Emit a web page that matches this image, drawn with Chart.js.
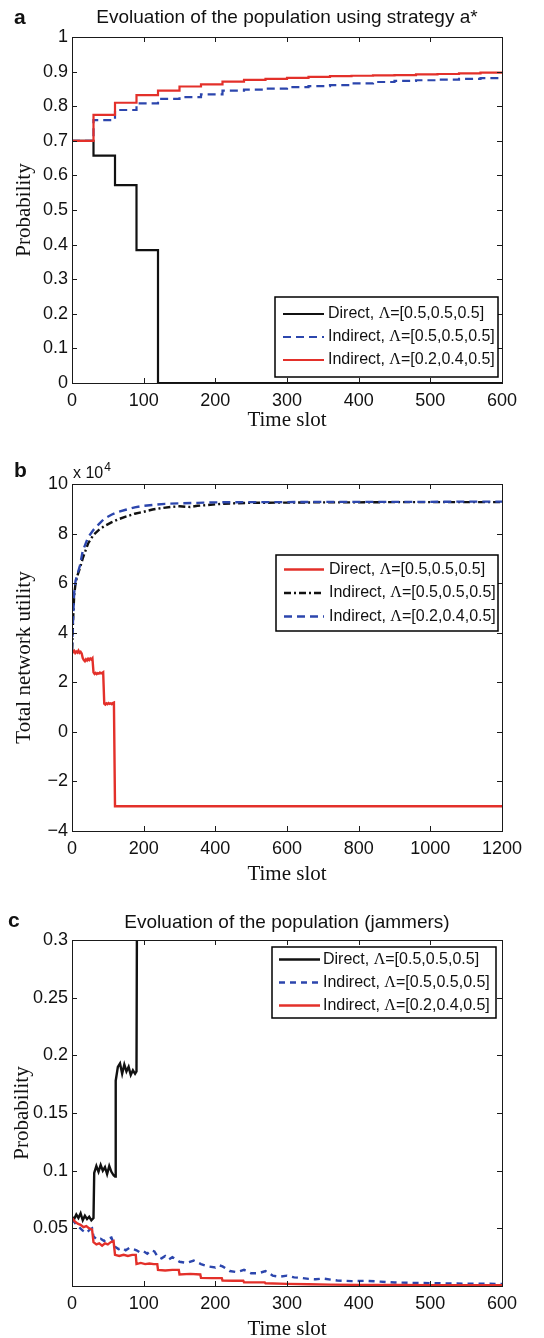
<!DOCTYPE html>
<html><head><meta charset="utf-8">
<script src="https://cdn.jsdelivr.net/npm/chart.js@4.4.1/dist/chart.umd.min.js"></script>
<style>
html,body{margin:0;padding:0;background:#fff;}
body{width:544px;height:1338px;position:relative;overflow:hidden;}
canvas{position:absolute;left:0;}
</style></head><body>
<canvas id="ca" width="544" height="440" style="top:0px"></canvas>
<canvas id="cb" width="544" height="450" style="top:440px"></canvas>
<canvas id="cc" width="544" height="448" style="top:890px"></canvas>
<script>
// ---------------- DATA ----------------
// Panel a: step values, one per 30-slot interval (last repeats the final value at slot 600)
const aSlots = [0,30,60,90,120,150,180,210,240,270,300,330,360,390,420,450,480,510,540,570,600];
const aDirect = [0.700,0.657,0.572,0.384,0,0,0,0,0,0,0,0,0,0,0,0,0,0,0,0,0];
const aIndirect55 = [0.700,0.760,0.789,0.808,0.821,0.826,0.834,0.845,0.848,0.851,0.855,0.858,0.861,0.866,0.870,0.873,0.875,0.877,0.879,0.881,0.881];
const aIndirect24 = [0.700,0.775,0.810,0.832,0.845,0.857,0.863,0.871,0.876,0.879,0.882,0.885,0.887,0.888,0.889,0.890,0.892,0.893,0.895,0.897,0.897];

// Panel b: total network utility (in units of 10^4)
const bDirectX = [0,3,6,9,12,15,18,21,24,27,30,33,36,39,42,45,48,51,54,57,60,63,66,69,72,75,78,81,84,87,90,93,96,99,102,105,108,111,114,117,120,1200];
const bDirectY = [3.30,3.22,3.27,3.18,3.24,3.20,3.28,3.19,3.23,3.16,2.98,2.90,2.85,2.93,2.88,2.95,2.90,2.96,2.92,2.97,2.40,2.34,2.38,2.33,2.37,2.35,2.39,2.36,2.38,2.41,1.14,1.10,1.15,1.12,1.16,1.13,1.15,1.12,1.16,1.18,-3.0,-3.0];
const bInd55X = [0,3,6,10,15,22,30,45,60,75,90,110,130,150,175,200,225,250,280,300,330,350,380,400,450,500,600,700,800,900,1000,1100,1200];
const bInd55Y = [3.3,4.5,5.5,6.0,6.3,6.6,7.0,7.6,7.95,8.15,8.3,8.45,8.58,8.68,8.8,8.88,8.97,9.03,9.08,9.1,9.07,9.12,9.15,9.18,9.22,9.24,9.25,9.26,9.26,9.27,9.27,9.27,9.27];
const bInd24X = [0,3,6,10,15,22,30,45,60,75,90,110,130,150,175,200,230,260,300,350,400,500,600,700,800,900,1000,1100,1200];
const bInd24Y = [3.3,4.6,5.6,6.1,6.35,6.7,7.3,7.85,8.15,8.38,8.6,8.76,8.88,8.96,9.06,9.12,9.16,9.2,9.22,9.24,9.26,9.27,9.27,9.28,9.28,9.28,9.28,9.29,9.29];

// Panel c: jammer population probability
const cDirectX = [0,3,6,9,12,15,18,21,24,27,30,31,34,37,40,43,46,49,52,55,58,60,61,64,67,70,73,76,79,82,85,88,90,91,600];
const cDirectY = [0.060,0.058,0.062,0.059,0.063,0.057,0.061,0.058,0.060,0.057,0.059,0.098,0.104,0.099,0.105,0.100,0.103,0.097,0.104,0.099,0.096,0.095,0.178,0.190,0.193,0.184,0.192,0.186,0.190,0.183,0.187,0.184,0.186,0.400,0.400];
const cInd55X = [0,5,10,15,20,25,28,30,35,40,45,50,55,60,65,70,75,80,85,90,95,100,105,110,115,120,125,130,135,140,150,160,170,180,190,200,205,210,220,230,240,250,260,270,280,290,300,310,320,330,340,350,370,390,410,430,450,470,500,530,560,600];
const cInd55Y = [0.058,0.054,0.051,0.048,0.046,0.049,0.050,0.043,0.040,0.041,0.039,0.041,0.042,0.034,0.032,0.033,0.031,0.033,0.032,0.031,0.029,0.030,0.028,0.031,0.030,0.025,0.024,0.026,0.023,0.025,0.021,0.020,0.022,0.019,0.017,0.016,0.018,0.017,0.013,0.012,0.014,0.011,0.011,0.013,0.009,0.008,0.009,0.0075,0.007,0.0062,0.0058,0.0065,0.0048,0.0042,0.0045,0.0038,0.0030,0.0028,0.0025,0.0022,0.0020,0.0018];
const cInd24X = [0,4,8,12,16,20,24,28,30,34,38,42,46,50,54,58,60,66,72,78,84,89,90,96,102,108,114,119,120,130,140,149,150,165,179,180,195,209,210,225,239,240,255,269,270,300,330,360,400,450,500,550,600];
const cInd24Y = [0.059,0.056,0.054,0.053,0.051,0.052,0.050,0.049,0.038,0.036,0.037,0.035,0.037,0.036,0.038,0.039,0.027,0.026,0.027,0.026,0.027,0.027,0.019,0.020,0.019,0.0195,0.019,0.019,0.014,0.0135,0.014,0.014,0.010,0.0105,0.010,0.007,0.0068,0.0068,0.0048,0.0045,0.0045,0.0033,0.0031,0.0031,0.0024,0.0018,0.0015,0.0012,0.0010,0.0009,0.0008,0.0008,0.0008];

// Labels
const labDirect55 = 'Direct, Λ=[0.5,0.5,0.5]';
const labInd55 = 'Indirect, Λ=[0.5,0.5,0.5]';
const labInd24 = 'Indirect, Λ=[0.2,0.4,0.5]';
const titleA = 'Evoluation of the population using strategy a*';
const titleC = 'Evoluation of the population (jammers)';
const xTitle = 'Time slot';
const yTitleA = 'Probability';
const yTitleB = 'Total network utility';
const yTitleC = 'Probability';

// ---------------- STYLE ----------------
const RED = '#e3302a', BLUE = '#2c46ad', BLACK = '#111111';
const SANS = "'Liberation Sans', Arial, Helvetica, sans-serif";
const SERIF = "'Liberation Serif', 'Times New Roman', serif";
const tickFont = {family: SANS, size: 18};
const axisTitleFont = {family: SERIF, size: 21};

function xy(xs, ys){ return xs.map((x,i)=>({x:x, y:ys[i]})); }

function drawLegendText(ctx, text, x, y, size){
  const parts = text.split('Λ');
  ctx.textBaseline = 'middle'; ctx.textAlign = 'left';
  ctx.font = size + 'px ' + SANS; ctx.fillText(parts[0], x, y); x += ctx.measureText(parts[0]).width;
  for (let i=1;i<parts.length;i++){
    ctx.font = size + 'px ' + SERIF; ctx.fillText('Λ', x, y); x += ctx.measureText('Λ').width;
    ctx.font = size + 'px ' + SANS; ctx.fillText(parts[i], x, y); x += ctx.measureText(parts[i]).width;
  }
}

const panelPlugin = {
  id: 'panel',
  afterDraw(chart, args, o){
    const {ctx, chartArea: a} = chart;
    const xs = chart.scales.x, ys = chart.scales.y;
    ctx.save();
    // axes box and inward ticks
    ctx.strokeStyle = '#1a1a1a'; ctx.lineWidth = 1;
    ctx.beginPath();
    xs.ticks.forEach(t => { const p = Math.round(xs.getPixelForValue(t.value)) + 0.5;
      ctx.moveTo(p, a.bottom); ctx.lineTo(p, a.bottom - 5); ctx.moveTo(p, a.top); ctx.lineTo(p, a.top + 5); });
    ys.ticks.forEach(t => { const p = Math.round(ys.getPixelForValue(t.value)) + 0.5;
      ctx.moveTo(a.left, p); ctx.lineTo(a.left + 5, p); ctx.moveTo(a.right, p); ctx.lineTo(a.right - 5, p); });
    ctx.stroke();
    ctx.strokeRect(Math.round(a.left)+0.5, Math.round(a.top)+0.5, Math.round(a.right-a.left), Math.round(a.bottom-a.top));
    // legend
    const L = o.legend;
    ctx.fillStyle = '#fff'; ctx.fillRect(L.x, L.y, L.w, L.h);
    ctx.strokeStyle = '#000'; ctx.lineWidth = 1.5; ctx.strokeRect(L.x, L.y, L.w, L.h);
    chart.data.datasets.forEach((ds, i) => {
      const cy = L.y + L.h/2 + (i-1)*L.row;
      ctx.beginPath(); ctx.strokeStyle = ds.borderColor; ctx.lineWidth = ds.borderWidth;
      ctx.setLineDash(ds.borderDash || []);
      ctx.moveTo(L.x + L.s0, cy); ctx.lineTo(L.x + L.s1, cy); ctx.stroke(); ctx.setLineDash([]);
      ctx.fillStyle = '#111';
      drawLegendText(ctx, ds.label, L.x + L.t, cy, L.size);
    });
    // title & panel letter
    ctx.fillStyle = '#111'; ctx.textBaseline = 'alphabetic';
    if (o.title){ ctx.font = '19px ' + SANS; ctx.textAlign = 'center'; ctx.fillText(o.title, (a.left + a.right)/2, o.titleY); }
    ctx.font = 'bold 21px ' + SANS; ctx.textAlign = 'left'; ctx.fillText(o.letter, o.letterX, o.letterY);
    if (o.exp){
      ctx.font = '16px ' + SANS; ctx.fillText('x 10', a.left + 1, o.exp.y);
      const w = ctx.measureText('x 10').width;
      ctx.font = '12px ' + SANS; ctx.fillText('4', a.left + 1 + w + 1, o.exp.y - 7);
    }
    ctx.restore();
  }
};

function makeChart(id, cfg){
  const cv = document.getElementById(id);
  const H = cv.height;
  const lh = axisTitleFont.size * 1.2;
  return new Chart(cv, {
    type: 'line',
    data: { datasets: cfg.datasets },
    options: {
      responsive: false, animation: false, devicePixelRatio: 1,
      layout: { padding: { top: cfg.area.top, right: 544 - cfg.area.right, left: 0, bottom: 0 } },
      elements: { point: { radius: 0 }, line: { tension: 0 } },
      plugins: { legend: { display: false }, tooltip: { enabled: false }, panel: cfg.panel },
      scales: {
        x: { type: 'linear', min: 0, max: cfg.xMax,
             ticks: { stepSize: cfg.xStep, font: tickFont, color: '#111', padding: 7, maxRotation: 0, autoSkip: false, includeBounds: true,
                      callback: v => String(v) },
             grid: { display: false, drawTicks: false }, border: { display: false },
             title: { display: true, text: xTitle, font: axisTitleFont, color: '#111', padding: { top: 0, bottom: H - cfg.xTitleY - lh/2 } },
             afterFit: s => { s.height = H - cfg.area.bottom; } },
        y: { type: 'linear', min: cfg.yMin, max: cfg.yMax,
             ticks: { stepSize: cfg.yStep, font: tickFont, color: '#111', padding: 4, callback: cfg.yFmt, autoSkip: false },
             grid: { display: false, drawTicks: false }, border: { display: false },
             title: { display: true, text: cfg.yTitle, font: axisTitleFont, color: '#111', padding: { top: cfg.yTitleX - lh/2, bottom: 0 } },
             afterFit: s => { s.width = cfg.area.left; } }
      }
    },
    plugins: [panelPlugin]
  });
}

const legendGeomA = { x: 275, y: 297, w: 223, h: 80, row: 23, s0: 8, s1: 49, t: 53, size: 16 };
const legendGeomB = { x: 276, y: 115, w: 222, h: 76, row: 23.5, s0: 8, s1: 48, t: 53, size: 16 };
const legendGeomC = { x: 272, y: 57, w: 224, h: 71, row: 23, s0: 7, s1: 48, t: 51, size: 16 };

makeChart('ca', {
  area: { left: 72, right: 502, top: 37, bottom: 383 },
  xMax: 600, xStep: 100, yMin: 0, yMax: 1, yStep: 0.1,
  yFmt: v => String(+v.toFixed(1)),
  yTitle: yTitleA, yTitleX: 24, xTitleY: 420,
  panel: { title: titleA, titleY: 23, letter: 'a', letterX: 14, letterY: 24, legend: legendGeomA },
  datasets: [
    { label: labDirect55, data: xy(aSlots, aDirect), stepped: 'before', borderColor: BLACK, borderWidth: 2.2, order: 2 },
    { label: labInd55, data: xy(aSlots, aIndirect55), stepped: 'before', borderColor: BLUE, borderWidth: 2.2, borderDash: [8,5], order: 1 },
    { label: labInd24, data: xy(aSlots, aIndirect24), stepped: 'before', borderColor: RED, borderWidth: 2.2, order: 0 }
  ]
});

makeChart('cb', {
  area: { left: 72, right: 502, top: 44, bottom: 391 },
  xMax: 1200, xStep: 200, yMin: -4, yMax: 10, yStep: 2,
  yFmt: v => v < 0 ? '\u2212' + Math.abs(v) : String(v),
  yTitle: yTitleB, yTitleX: 24, xTitleY: 434,
  panel: { letter: 'b', letterX: 14, letterY: 37, legend: legendGeomB, exp: { y: 38 } },
  datasets: [
    { label: labDirect55, data: xy(bDirectX, bDirectY), borderColor: RED, borderWidth: 2.4, order: 2 },
    { label: labInd55, data: xy(bInd55X, bInd55Y), borderColor: BLACK, borderWidth: 2.4, borderDash: [7,3,2,3], order: 1 },
    { label: labInd24, data: xy(bInd24X, bInd24Y), borderColor: BLUE, borderWidth: 2.4, borderDash: [8,5], order: 0 }
  ]
});

makeChart('cc', {
  area: { left: 72, right: 502, top: 50, bottom: 396 },
  xMax: 600, xStep: 100, yMin: 0, yMax: 0.3, yStep: 0.05,
  yFmt: v => Math.abs(v) < 1e-9 ? '' : String(+v.toFixed(2)),
  yTitle: yTitleC, yTitleX: 22, xTitleY: 439,
  panel: { title: titleC, titleY: 38, letter: 'c', letterX: 8, letterY: 37, legend: legendGeomC },
  datasets: [
    { label: labDirect55, data: xy(cDirectX, cDirectY), borderColor: BLACK, borderWidth: 2.4, order: 2 },
    { label: labInd55, data: xy(cInd55X, cInd55Y), borderColor: BLUE, borderWidth: 2.4, borderDash: [6,5], order: 1 },
    { label: labInd24, data: xy(cInd24X, cInd24Y), borderColor: RED, borderWidth: 2.4, order: 0 }
  ]
});
</script>
</body></html>
